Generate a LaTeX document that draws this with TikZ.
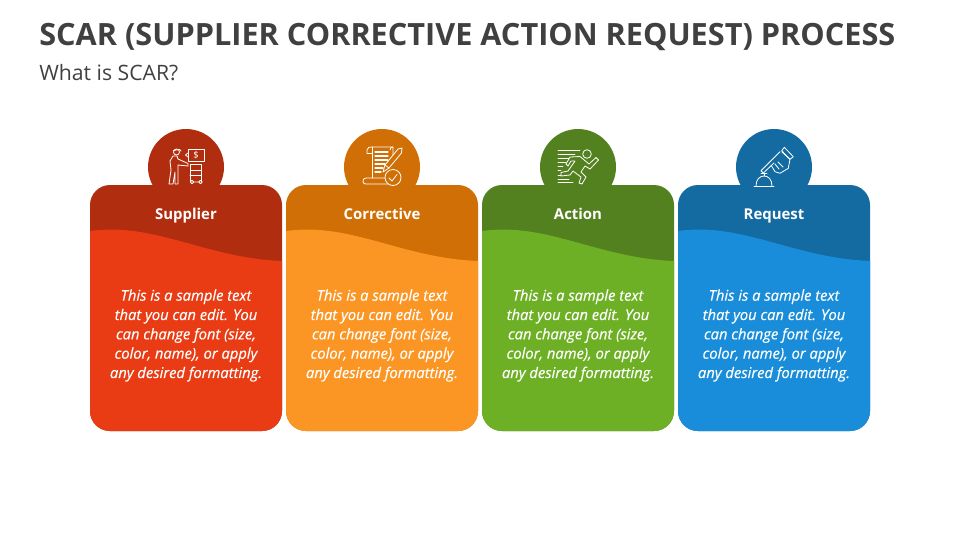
\documentclass[tikz,border=0pt]{standalone}
\usepackage{fontspec}
\setmainfont{Open Sans}
\newfontfamily\cardfont[ItalicFeatures={FakeBold=0.35}]{Open Sans}
\definecolor{reddark}{HTML}{B02E0F}
\definecolor{redlight}{HTML}{E93C14}
\definecolor{orangedark}{HTML}{CF6F05}
\definecolor{orangelight}{HTML}{FB9624}
\definecolor{greendark}{HTML}{548120}
\definecolor{greenlight}{HTML}{6DB025}
\definecolor{bluedark}{HTML}{136BA2}
\definecolor{bluelight}{HTML}{198DD9}
\definecolor{titlegray}{HTML}{404040}
\tikzset{
  cardhead/.style={text=white, anchor=base, inner sep=0pt, font=\fontsize{11.2}{13}\selectfont\bfseries},
  cardbody/.style={text=white, align=center, inner sep=0pt, font=\fontsize{11.05}{14.5}\selectfont\cardfont\itshape},
  icon/.style={draw=white, line width=0.6pt, line join=round, line cap=round},
}
\begin{document}
\begin{tikzpicture}[x=0.75pt,y=-0.75pt]
	\useasboundingbox (0,0) rectangle (960,540);
	\node[anchor=base west, inner sep=0pt, text=titlegray, font=\fontsize{23}{28}\selectfont\bfseries] (title) at (39,45) {SCAR (SUPPLIER CORRECTIVE ACTION REQUEST) PROCESS};
	\node[anchor=base west, inner sep=0pt, text=titlegray, font=\fontsize{15.9}{18}\selectfont] (subtitle) at (39,80) {What is SCAR?};
	% cards
	\foreach \i/\dk/\lt/\word in {0/reddark/redlight/Supplier,1/orangedark/orangelight/Corrective,2/greendark/greenlight/Action,3/bluedark/bluelight/Request}{
	  \begin{scope}[shift={(\i*196,0)}]
	    \fill[\dk] (186,167) circle (38);
	    \fill[\dk, rounded corners=15pt] (90,431) rectangle (282,185);
	    \fill[\lt] (90,231) .. controls (155,222) and (205,258) .. (282,261) [rounded corners=15pt] -- (282,431) -- (90,431) [sharp corners] -- cycle;
	    \node[cardhead] (head\i) at (186,219) {\word};
	    \node[cardbody] (body\i) at (186,335.5) {This is a sample text\\that you can edit. You\\can change font (size,\\color, name), or apply\\any desired formatting.};
	  \end{scope}
	}
	% supplier icon
	\draw[icon] (188,149) rectangle (204,161);
	\draw[icon] (188,153) -- (185.5,155) -- (188,157);
	\node[text=white, inner sep=0pt, font=\fontsize{7}{8}\selectfont] (dollar) at (196,155) {\$};
	\draw[icon] (176.5,152) circle (3);
	\draw[icon] (173.5,150.5) -- (179.5,149.5) -- (181,151);
	\draw[icon] (173,156) -- (170,161) -- (171,170) -- (169,184) -- (173,184) -- (175,172) -- (175,184) -- (178,184) -- (178,165) -- (188,166) -- (188,163.5) -- (178,159) -- (177,156) -- cycle;
	\draw[icon] (190,164) rectangle (201,170);
	\draw[icon] (190,170) -- (190,182) (201,170) -- (201,182) (190,175) -- (201,175);
	\draw[icon] (192,182) circle (1.7) (200.5,182) circle (1.7) (193.7,182) -- (198.8,182);
	% corrective icon
	\draw[icon] (367,153) -- (367,150) .. controls (367,147) and (370,147) .. (372,147) -- (393,147) -- (393,155);
	\draw[icon] (367,153) -- (372,153) (372,147) -- (372,178);
	\draw[icon] (393,147) .. controls (391,147) and (390,148) .. (390,150);
	\draw[icon] (386,178) -- (367,178) .. controls (364,178) and (362,180) .. (363,182) .. controls (363,184) and (365,184) .. (367,184) -- (388,184);
	\foreach \yy/\xe in {152/388,156/388,160/388,164/385,168/383,172/381}{
	  \draw[icon, line width=0.9pt] (375,\yy) -- (\xe,\yy);
	}
	\draw[icon] (383,172) -- (385,165) -- (398,149) -- (402,148) -- (401.5,153) -- (389,168) -- cycle;
	\draw[icon] (385,165) -- (389,168);
	\draw[icon, fill=orangedark] (393,177.5) circle (8);
	\draw[icon] (389,178) -- (392,181) -- (397,174.5);
	% action icon
	\foreach \yy/\xe in {150.7/580,154/575,158.3/569,162.7/566,166.7/563,170.7/561,175/561,179/569,182.7/573}{
	  \draw[icon] (558,\yy) -- (\xe,\yy);
	}
	\draw[icon] (587,154) circle (4.3);
	\draw[icon, fill=greendark] (566,164) -- (570,157) -- (580,156.5) -- (589,164) -- (596,157.5) -- (598.5,160) -- (590,169) -- (585,166) -- (581,172) -- (586,177) -- (582,184) -- (579,183) -- (581,177) -- (573,171) -- (570,175) -- (561,176) -- (561,172.5) -- (568,171) -- (575,161) -- (571,161) -- (568,166) -- cycle;
	% request icon
	\draw[icon] (754,186) -- (774,186);
	\draw[icon] (756,186) .. controls (756,179) and (760,176) .. (764,176) .. controls (768,176) and (772,179) .. (772,186);
	\draw[icon] (764,176) -- (764,174) (761,173.5) -- (767,173.5);
	\draw[icon] (763.3,173) -- (761,170.7) -- (780,151.7) (763.3,173) -- (774,163);
	\draw[icon] (784.3,147.3) -- (793.3,156.7) -- (790,159.3) -- (781.7,150.7) -- cycle;
	\draw[icon] (782,152) -- (790,159.3) -- (788.3,168.3) -- (780,173.3) -- (775,171.7) -- (771,165);
	\draw[icon] (775,164) -- (779,169) (778,162) -- (783,167);
\end{tikzpicture}
\end{document}
